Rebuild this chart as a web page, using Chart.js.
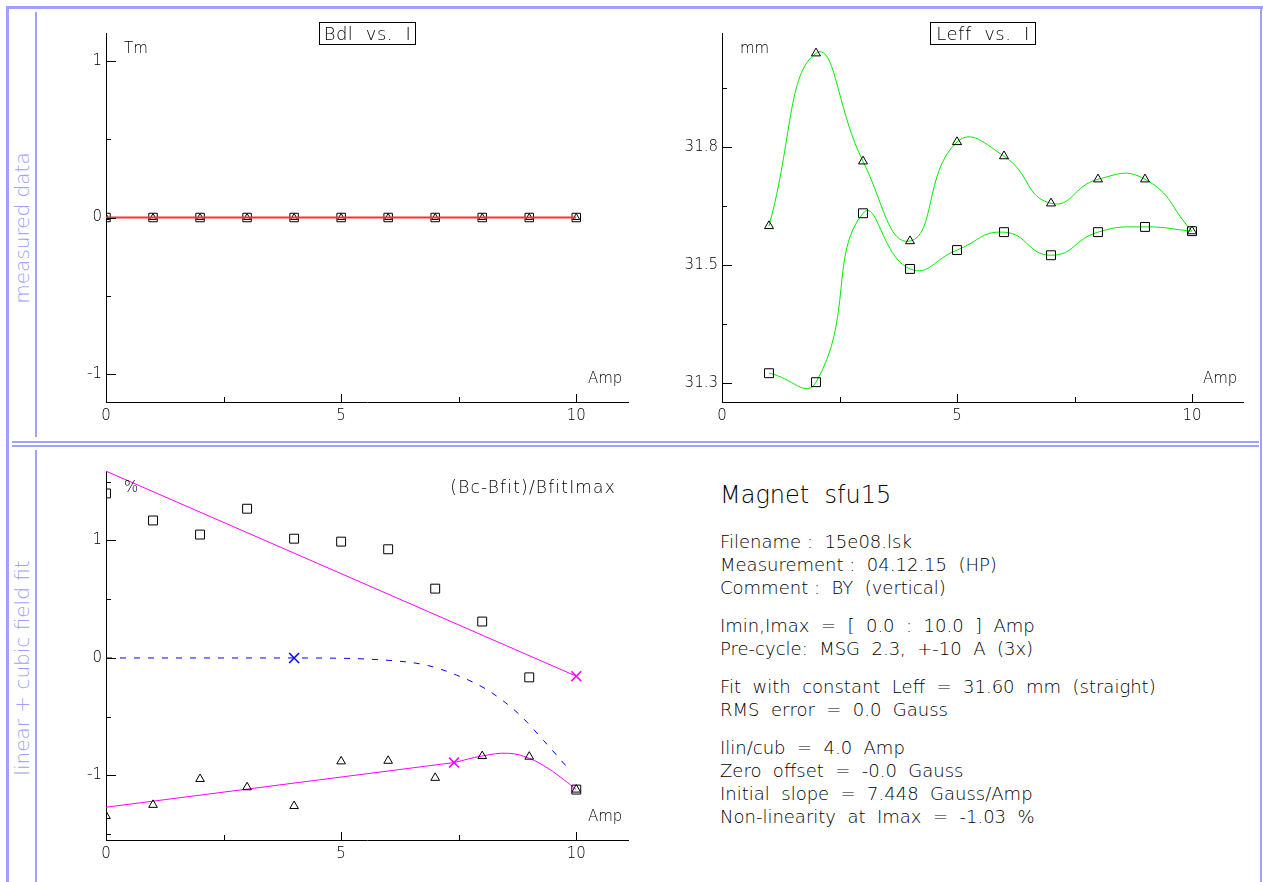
<!DOCTYPE html>
<html>
<head>
<meta charset="utf-8">
<script src="https://cdn.jsdelivr.net/npm/chart.js@4/dist/chart.umd.min.js"></script>
<style>
  body { margin: 0; background: #fff; }
  #page { position: relative; width: 1263px; height: 882px; overflow: hidden; background: #fff;
          font-family: 'DejaVu Sans', sans-serif; font-weight: 200; color: #000; }
  canvas { position: absolute; }
  .fr { position: absolute; background: #a0a0ff; }
  .lbl { position: absolute; white-space: pre; font-size: 15px; line-height: 1; transform: translateY(-50%); }
  .side { position: absolute; white-space: pre; color: #a0a0ff; font-size: 20px; line-height: 1;
          transform: translate(-50%, -50%) rotate(-90deg); }
  .title { position: absolute; border: 1px solid #000; font-size: 18px; line-height: 21px; text-align: center;
           white-space: pre; letter-spacing: 0.5px; }
  #info { position: absolute; left: 720px; top: 480px; font-size: 18px; line-height: 23px; white-space: pre; }
  #info .head { font-size: 24px; line-height: 30px; margin-bottom: 20px; }
  #info .grp { margin-bottom: 15px; }
</style>
</head>
<body>
<div id="page">
  <div class="fr" style="left:6px;top:6px;width:1257px;height:3px"></div>
  <div class="fr" style="left:6px;top:6px;width:3px;height:876px"></div>
  <div class="fr" style="left:1260px;top:6px;width:2px;height:876px"></div>
  <div class="fr" style="left:35px;top:12px;width:2px;height:425px"></div>
  <div class="fr" style="left:35px;top:450px;width:2px;height:432px"></div>
  <div class="fr" style="left:12px;top:441px;width:1247px;height:2px"></div>
  <div class="fr" style="left:12px;top:445px;width:1247px;height:2px"></div>

  <div class="side" style="left:22px;top:228px">measured data</div>
  <div class="side" style="left:22px;top:668px">linear + cubic field fit</div>

  <canvas id="bdl" width="600" height="425" style="left:40px;top:10px"></canvas>
  <canvas id="leff" width="605" height="425" style="left:650px;top:10px"></canvas>
  <canvas id="dev" width="600" height="425" style="left:40px;top:450px"></canvas>

  <div class="title" style="left:319px;top:22px;width:95px;height:21px">Bdl  vs.  I</div>
  <div class="title" style="left:930px;top:22px;width:104px;height:21px">Leff  vs.  I</div>
  <div class="lbl" style="left:124px;top:48px">Tm</div>
  <div class="lbl" style="left:740px;top:48px">mm</div>
  <div class="lbl" style="left:124px;top:487px">%</div>
  <div class="lbl" style="left:588px;top:378px">Amp</div>
  <div class="lbl" style="left:1203px;top:378px">Amp</div>
  <div class="lbl" style="left:588px;top:816px">Amp</div>
  <div class="lbl" style="right:647px;top:487px;font-size:17px;letter-spacing:1.2px">(Bc-Bfit)/BfitImax</div>

  <div id="info"></div>
</div>
<script>
// measured currents
const amps = [0, 1, 2, 3, 4, 5, 6, 7, 8, 9, 10];
const leffAmps = [1, 2, 3, 4, 5, 6, 7, 8, 9, 10];

// Bdl vs. I (Tm)
const bdlTriangles = [0, 0, 0, 0, 0, 0, 0, 0, 0, 0, 0];
const bdlSquares = [0, 0, 0, 0, 0, 0, 0, 0, 0, 0, 0];
const bdlFitX = [0, 10];
const bdlFitY = [0, 0];

// Leff vs. I (mm)
const leffTriangles = [31.633, 31.999, 31.770, 31.601, 31.811, 31.781, 31.681, 31.732, 31.732, 31.622];
const leffSquares = [31.321, 31.302, 31.660, 31.542, 31.582, 31.620, 31.571, 31.620, 31.631, 31.622];

// (Bc-Bfit)/BfitImax (%)
const devSquares = [1.40, 1.17, 1.05, 1.27, 1.015, 0.99, 0.925, 0.59, 0.31, -0.165, -1.12];
const devTriangles = [-1.345, -1.25, -1.03, -1.10, -1.26, -0.88, -0.875, -1.02, -0.835, -0.84, -1.12];
const upperFitX = [0, 10];
const upperFitY = [1.59, -0.155];
const lowerLinX = [0, 7.4];
const lowerLinY = [-1.27, -0.89];
const lowerCubX = [7.4, 8, 8.56, 9, 9.4, 9.75, 10];
const lowerCubY = [-0.89, -0.834, -0.811, -0.854, -0.94, -1.04, -1.12];
const cubicX = [0, 4, 6, 6.8, 7.45, 8.1, 8.76, 9.3, 9.85];
const cubicY = [0, 0, -0.02, -0.06, -0.145, -0.27, -0.47, -0.70, -0.95];
const blueMarkX = [4];
const blueMarkY = [0];
const pinkMarkX = [7.4, 10];
const pinkMarkY = [-0.89, -0.155];

// axis ticks
const bdlYTicks = [-1, 0, 1];
const bdlYLabels = ['-1', '0', '1'];
const bdlYMinor = [-0.5, 0.5];
const leffYTicks = [31.3, 31.55, 31.8];
const leffYLabels = ['31.3', '31.5', '31.8'];
const leffYMinor = [31.425, 31.675, 31.925];
const devYTicks = [-1, 0, 1];
const devYLabels = ['-1', '0', '1'];
const devYMinor = [-1.5, -0.5, 0.5, 1.5];
const ampTicks = [0, 5, 10];
const ampLabels = ['0', '5', '10'];
const ampMinor = [2.5, 7.5];

// text block
const infoTitle = 'Magnet  sfu15';
const infoGroups = [
  ['Filename :  15e08.lsk', 'Measurement :  04.12.15  (HP)', 'Comment :  BY  (vertical)'],
  ['Imin,Imax  =  [  0.0  :  10.0  ]  Amp', 'Pre-cycle:  MSG  2.3,  +-10  A  (3x)'],
  ['Fit  with  constant  Leff  =  31.60  mm  (straight)', 'RMS  error  =  0.0  Gauss'],
  ['Ilin/cub  =  4.0  Amp', 'Zero  offset  =  -0.0  Gauss', 'Initial  slope  =  7.448  Gauss/Amp', 'Non-linearity  at  Imax  =  -1.03  %']
];

const info = document.getElementById('info');
const h = document.createElement('div');
h.className = 'head';
h.textContent = infoTitle;
info.appendChild(h);
infoGroups.forEach(g => {
  const d = document.createElement('div');
  d.className = 'grp';
  d.textContent = g.join('\n');
  info.appendChild(d);
});

const FONT = { family: "'DejaVu Sans', sans-serif", size: 15, weight: '200' };

function pts(xs, ys) {
  return xs.map((x, i) => ({ x: x, y: ys[i] }));
}

// short tick marks drawn inside the plot, like the original plotter
const inwardTicks = {
  id: 'inwardTicks',
  afterDraw(chart, args, opts) {
    const { ctx } = chart;
    const x = chart.scales.x, y = chart.scales.y;
    ctx.save();
    ctx.strokeStyle = '#000';
    ctx.lineWidth = 1;
    ctx.beginPath();
    const tx = (v, len) => {
      const px = Math.round(x.getPixelForValue(v)) + 0.5;
      ctx.moveTo(px, x.top); ctx.lineTo(px, x.top - len);
    };
    const ty = (v, len) => {
      const py = Math.round(y.getPixelForValue(v)) + 0.5;
      ctx.moveTo(y.right, py); ctx.lineTo(y.right + len, py);
    };
    opts.xMajor.forEach(v => tx(v, 8));
    opts.xMinor.forEach(v => tx(v, 5));
    opts.yMajor.forEach(v => ty(v, 10));
    opts.yMinor.forEach(v => ty(v, 5));
    ctx.stroke();
    ctx.restore();
  }
};

function markers(data, style, radius) {
  return {
    data: data, showLine: false, pointStyle: style, pointRadius: radius,
    pointBorderColor: '#000', pointBackgroundColor: 'rgba(0,0,0,0)', pointBorderWidth: 1, clip: 0
  };
}

function curve(data, color, extra) {
  return Object.assign({
    data: data, showLine: true, borderColor: color, borderWidth: 1, pointRadius: 0, fill: false, clip: 0
  }, extra || {});
}

function makeChart(id, datasets, cfg) {
  return new Chart(document.getElementById(id), {
    type: 'scatter',
    data: { datasets: datasets },
    plugins: [inwardTicks],
    options: {
      responsive: false,
      animation: false,
      devicePixelRatio: 1,
      layout: { padding: { top: cfg.padTop, right: cfg.padRight, left: 0, bottom: 0 } },
      elements: { line: { capBezierPoints: false } },
      plugins: {
        legend: { display: false },
        tooltip: { enabled: false },
        inwardTicks: { xMajor: ampTicks, xMinor: ampMinor, yMajor: cfg.yTicks, yMinor: cfg.yMinor }
      },
      scales: {
        x: {
          type: 'linear', min: 0, max: cfg.xMax,
          grid: { display: false, drawTicks: false },
          border: { display: true, color: '#000', width: 1 },
          afterBuildTicks: s => { s.ticks = ampTicks.map(v => ({ value: v })); },
          afterFit: s => { s.height = cfg.xHeight; },
          ticks: { color: '#000', font: FONT, padding: 5, autoSkip: false, maxRotation: 0,
                   callback: (v, i) => ampLabels[i] }
        },
        y: {
          type: 'linear', min: cfg.yMin, max: cfg.yMax,
          grid: { display: false, drawTicks: false },
          border: { display: true, color: '#000', width: 1 },
          afterBuildTicks: s => { s.ticks = cfg.yTicks.map(v => ({ value: v })); },
          afterFit: s => { s.width = cfg.yWidth; },
          ticks: { color: '#000', font: FONT, padding: 4, autoSkip: false,
                   callback: (v, i) => cfg.yLabels[i] }
        }
      }
    }
  });
}

makeChart('bdl', [
  curve(pts(bdlFitX, bdlFitY), '#ff3030', { borderWidth: 2, order: 0 }),
  Object.assign(markers(pts(amps, bdlTriangles), 'triangle', 4), { order: 1 }),
  Object.assign(markers(pts(amps, bdlSquares), 'rect', 6), { order: 2 })
], { padTop: 23, padRight: 12, xMax: 11.1, xHeight: 33, yWidth: 66,
     yMin: -1.18, yMax: 1.18, yTicks: bdlYTicks, yLabels: bdlYLabels, yMinor: bdlYMinor });

makeChart('leff', [
  Object.assign(markers(pts(leffAmps, leffTriangles), 'triangle', 5.2), { order: 0 }),
  Object.assign(markers(pts(leffAmps, leffSquares), 'rect', 6.3), { order: 1 }),
  curve(pts(leffAmps, leffTriangles), '#00ee00', { tension: 0.5, order: 2 }),
  curve(pts(leffAmps, leffSquares), '#00ee00', { tension: 0.5, order: 3 })
], { padTop: 23, padRight: 12, xMax: 11.085, xHeight: 33, yWidth: 72,
     yMin: 31.26, yMax: 32.042, yTicks: leffYTicks, yLabels: leffYLabels, yMinor: leffYMinor });

makeChart('dev', [
  Object.assign(markers(pts(amps, devSquares), 'rect', 6.3), { order: 0 }),
  Object.assign(markers(pts(amps, devTriangles), 'triangle', 5), { order: 1 }),
  curve(pts(upperFitX, upperFitY), '#ff00ff', { order: 2 }),
  curve(pts(lowerLinX, lowerLinY), '#ff00ff', { order: 3 }),
  curve(pts(lowerCubX, lowerCubY), '#ff00ff', { tension: 0.4, order: 4 }),
  curve(pts(cubicX, cubicY), '#0000ff', { borderDash: [6, 8], cubicInterpolationMode: 'monotone', order: 5 }),
  { data: pts(blueMarkX, blueMarkY), showLine: false, pointStyle: 'crossRot', pointRadius: 7,
    pointBorderColor: '#0000ff', pointBorderWidth: 1.5, order: 0 },
  { data: pts(pinkMarkX, pinkMarkY), showLine: false, pointStyle: 'crossRot', pointRadius: 7,
    pointBorderColor: '#ff00ff', pointBorderWidth: 1.5, order: 0 }
], { padTop: 21, padRight: 12, xMax: 11.1, xHeight: 35, yWidth: 66,
     yMin: -1.549, yMax: 1.591, yTicks: devYTicks, yLabels: devYLabels, yMinor: devYMinor });
</script>
</body>
</html>
